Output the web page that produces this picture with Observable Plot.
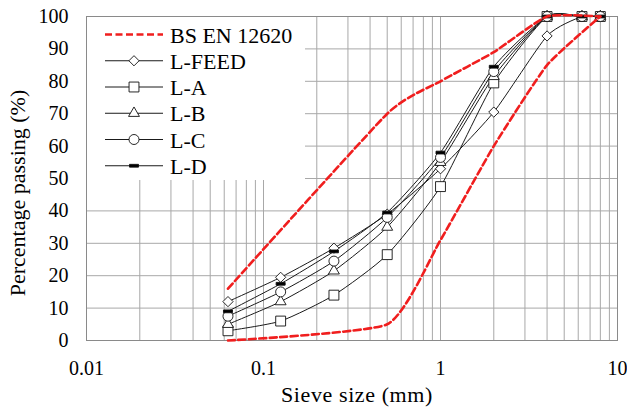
<!DOCTYPE html>
<html>
<head>
<meta charset="utf-8">
<script src="https://cdn.jsdelivr.net/npm/d3@7"></script>
<script src="https://cdn.jsdelivr.net/npm/@observablehq/plot@0.6"></script>
<style>
  html, body { margin: 0; padding: 0; background: #fff; }
  #wrap { position: relative; width: 627px; height: 412px; font-family: "Liberation Serif"; }
  #legend { position: absolute; left: 0; top: 0; }
  svg, svg text { font-family: "Liberation Serif" !important; }
</style>
</head>
<body>
<div id="wrap"></div>
<script>
// ---- data ----
const sieveSizes = [0.063, 0.125, 0.25, 0.5, 1, 2, 4, 6.3, 8];
const lFeed = [12, 19.5, 28.5, 39, 53, 70.5, 94, 100, 100];
const lA    = [3, 6, 14, 26.5, 47.5, 79.5, 100, 100, 100];
const lB    = [5, 12, 21.5, 35, 55, 81.5, 100, 100, 100];
const lC    = [7.5, 15, 24.5, 38, 56.5, 83, 100, 100, 100];
const lD    = [9, 17.5, 27.5, 39.5, 58, 84.5, 100, 100, 100];
const envSizes = [0.063, 0.5, 1, 2, 4, 8];
const envLower = [0, 5, 31, 60, 85, 100];
const envUpper = [16, 70, 80, 89, 100, 100];
const seriesNames = ["L-FEED", "L-A", "L-B", "L-C", "L-D"];
const envName = "BS EN 12620";
const xTickValues = [0.01, 0.1, 1, 10];
const yTickValues = [0, 10, 20, 30, 40, 50, 60, 70, 80, 90, 100];
const xLabel = "Sieve size (mm)";
const yLabel = "Percentage passing (%)";

const serif = "Liberation Serif";

// ---- symbols ----
const dashSymbol = { draw(ctx) { ctx.moveTo(-4.5, -1.4); ctx.lineTo(4.5, -1.4); ctx.lineTo(4.5, 1.4); ctx.lineTo(-4.5, 1.4); ctx.closePath(); } };
const symbolSpec = {
  "L-FEED": { symbol: d3.symbolDiamond2, r: 4.6, fill: "white" },
  "L-A":    { symbol: d3.symbolSquare2, r: 6.3, fill: "white" },
  "L-B":    { symbol: d3.symbolTriangle2, r: 5.2, fill: "white" },
  "L-C":    { symbol: d3.symbolCircle, r: 5, fill: "white" },
  "L-D":    { symbol: dashSymbol, r: 5, fill: "black" }
};
const seriesValues = [lFeed, lA, lB, lC, lD];
const rows = [];
seriesNames.forEach((name, i) => sieveSizes.forEach((s, j) => rows.push({ series: name, size: s, pass: seriesValues[i][j] })));
const envRows = [];
envSizes.forEach((s, j) => envRows.push({ bound: "lower", size: s, pass: envLower[j] }));
envSizes.forEach((s, j) => envRows.push({ bound: "upper", size: s, pass: envUpper[j] }));

// minor grid ticks (log decades)
const xGrid = [];
for (const dec of [0.01, 0.1, 1]) for (let k = 1; k <= 9; k++) xGrid.push(+(dec * k).toPrecision(3));
xGrid.push(10);

const red = "#f01e1e";
const gridColor = "#a8a8a8";

const dotMarks = seriesNames.map(name => Plot.dot(rows.filter(d => d.series === name), {
  x: "size", y: "pass", symbol: symbolSpec[name].symbol, r: symbolSpec[name].r,
  fill: symbolSpec[name].fill, stroke: "#111", strokeWidth: 0.9
}));

const chart = Plot.plot({
  width: 627, height: 412,
  marginLeft: 86, marginRight: 10, marginTop: 16, marginBottom: 72,
  x: { type: "log", domain: [0.01, 10] },
  y: { domain: [0, 100] },
  style: { fontFamily: serif, fontSize: "20px", color: "#000", background: "white" },
  marks: [
    Plot.gridX(xGrid, { stroke: gridColor, strokeOpacity: 1, strokeWidth: 1 }),
    Plot.gridY(yTickValues, { stroke: gridColor, strokeOpacity: 1, strokeWidth: 1 }),
    Plot.frame({ stroke: "#8a8a8a" }),
    Plot.axisX(xTickValues, { tickSize: 0, tickPadding: 20, label: null, tickFormat: d => String(d), fontSize: 20, letterSpacing: 1.5 }),
    Plot.axisY(yTickValues, { tickSize: 0, tickPadding: 18, label: null, fontSize: 20, letterSpacing: 1.5 }),
    Plot.line(rows, { x: "size", y: "pass", z: "series", stroke: "#1a1a1a", strokeWidth: 1, curve: "cardinal", tension: 0.4 }),
    ...dotMarks,
    Plot.line(envRows, { x: "size", y: "pass", z: "bound", stroke: red, strokeWidth: 2.6, strokeDasharray: "7,3.5", curve: "cardinal", tension: 0.5 })
  ]
});

const wrap = document.getElementById("wrap");
wrap.appendChild(chart);

// axis titles
const svg = d3.select(chart);
svg.append("text")
  .attr("x", 357).attr("y", 402)
  .attr("text-anchor", "middle")
  .attr("font-family", serif).attr("font-size", 22).style("letter-spacing", "0.6px")
  .attr("fill", "#000")
  .text(xLabel);
svg.append("text")
  .attr("transform", "translate(25,193) rotate(-90)")
  .attr("text-anchor", "middle")
  .attr("font-family", serif).attr("font-size", 22)
  .attr("fill", "#000")
  .text(yLabel);

// legend overlay
const leg = d3.select(wrap).append("svg").attr("id", "legend").attr("width", 627).attr("height", 412);
leg.append("rect").attr("x", 87).attr("y", 17).attr("width", 218).attr("height", 163).attr("fill", "white");
const legItems = [envName, ...seriesNames];
legItems.forEach((name, i) => {
  const y = 34.5 + i * 26.25;
  const isEnv = name === envName;
  leg.append("line").attr("x1", 105).attr("x2", 163).attr("y1", y).attr("y2", y)
    .attr("stroke", isEnv ? red : "#1a1a1a").attr("stroke-width", isEnv ? 2.6 : 1)
    .attr("stroke-dasharray", isEnv ? "7,3.5" : null);
  if (!isEnv) {
    const spec = symbolSpec[name];
    leg.append("path").attr("transform", `translate(134,${y})`)
      .attr("d", d3.symbol().type(spec.symbol).size(Math.PI * spec.r * spec.r)())
      .attr("fill", spec.fill).attr("stroke", "#111").attr("stroke-width", 0.9);
  }
  leg.append("text").attr("x", 170).attr("y", y + 8)
    .attr("font-family", serif).attr("font-size", 22)
    .attr("fill", "#000").text(name);
});
</script>
</body>
</html>
